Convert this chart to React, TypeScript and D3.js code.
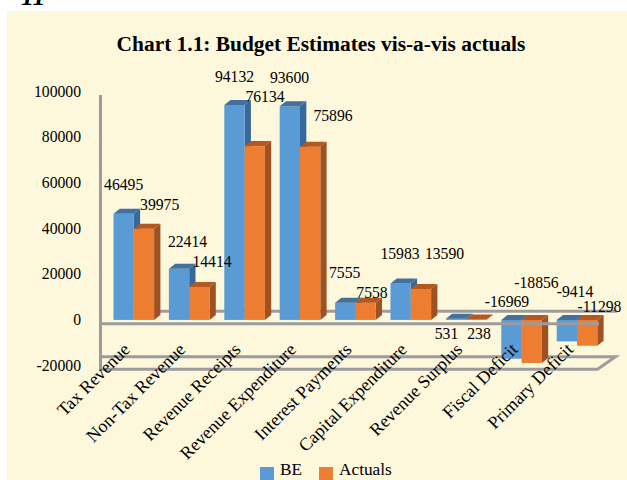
import * as d3 from "d3";
import { useEffect, useRef } from "react";

const categories = [
  "Tax Revenue",
  "Non-Tax Revenue",
  "Revenue Receipts",
  "Revenue Expenditure",
  "Interest Payments",
  "Capital Expenditure",
  "Revenue Surplus",
  "Fiscal Deficit",
  "Primary Deficit",
];
const seriesNames = ["BE", "Actuals"];
const beValues = [46495, 22414, 94132, 93600, 7555, 15983, 531, -16969, -9414];
const actualValues = [39975, 14414, 76134, 75896, 7558, 13590, 238, -18856, -11298];
const yTicks = [-20000, 0, 20000, 40000, 60000, 80000, 100000];

// hand placed data labels in the original: label centre x, baseline y
const beLabelPos = [[123.7, 190], [187.5, 247], [234.5, 82], [289.5, 82.5], [344.7, 278], [400, 259], [446.5, 339], [507, 306.7], [575, 297]];
const actualLabelPos = [[159.7, 210], [212, 267], [265, 102], [333, 121], [372, 298], [444.5, 259], [479, 339], [536.5, 288], [599.5, 312]];

const colors = {
  BE: { front: "#5B9BD5", top: "#41719C", side: "#37689A" },
  Actuals: { front: "#ED7D31", top: "#B4581F", side: "#9E5221" },
};
const serif = "'Liberation Serif', 'Times New Roman', serif";

export default function App() {
  const ref = useRef<SVGSVGElement>(null);

  useEffect(() => {
    const svg = d3.select(ref.current);
    svg.selectAll("*").remove();

    const width = 627;
    const height = 480;
    svg.attr("width", width).attr("height", height).style("font-family", serif);

    svg.append("rect").attr("width", width).attr("height", height).attr("fill", "#fff");
    svg.append("rect").attr("x", 7).attr("y", 11).attr("width", 620).attr("height", 469).attr("fill", "#FDF7DC");

    // page number cut off by the crop
    svg.append("text")
      .attr("x", 21).attr("y", 5)
      .style("font-size", "26px").style("font-weight", "bold").style("font-style", "italic")
      .text("11");

    svg.append("text")
      .attr("x", 321).attr("y", 50.5)
      .attr("text-anchor", "middle")
      .style("font-size", "21.4px").style("font-weight", "bold")
      .text("Chart 1.1: Budget Estimates vis-a-vis actuals");

    // scales
    const y = d3.scaleLinear().domain([-20000, 100000]).range([365.6, 91.6]);
    const x0 = d3.scaleBand().domain(categories).range([106.1, 604.7]).paddingInner(0.267).paddingOuter(0.1335);
    const x1 = d3.scaleBand().domain(seriesNames).range([0, x0.bandwidth()]);

    const wallX = 100.5;
    const lineColor = "#9C9C9C";
    const plane = (yy: number) => ({ front: yy + 3.7, back: yy - 8.8 });
    const zeroPlane = plane(y(0));
    const floor = plane(y(-20000));
    const gray = (sel: any) => sel.attr("fill", "none").attr("stroke", lineColor).attr("stroke-width", 3);

    // floor + back zero line sit behind the bars
    gray(svg.append("path")).attr(
      "d",
      `M${wallX},${floor.back}H615.5L597.5,${floor.front}H${wallX}`
    );
    gray(svg.append("path")).attr("d", `M116,${zeroPlane.back}H617`);
    gray(svg.append("path")).attr("d", `M${wallX},95V${floor.front + 1.5}`);

    // y axis labels
    svg.append("g")
      .selectAll("text")
      .data(yTicks)
      .enter()
      .append("text")
      .attr("x", 81)
      .attr("y", d => y(d) + 5)
      .attr("text-anchor", "end")
      .style("font-size", "15.7px")
      .text(d => d);

    // bars
    const dx = 6.3;
    const dy = -5;
    const rows = categories.flatMap((c, i) => [
      { c, s: "BE", v: beValues[i] },
      { c, s: "Actuals", v: actualValues[i] },
    ]);
    const bars = svg.append("g")
      .selectAll("g")
      .data(rows)
      .enter()
      .append("g");

    bars.each(function (d: any) {
      const g = d3.select(this);
      const col = colors[d.s as "BE" | "Actuals"];
      const bx = x0(d.c)! + x1(d.s)!;
      const bw = x1.bandwidth();
      const yTop = Math.min(y(d.v), y(0));
      const yBot = Math.max(y(d.v), y(0));
      g.append("path")
        .attr("d", `M${bx + bw},${yTop}l${dx},${dy}V${yBot + dy}l${-dx},${-dy}Z`)
        .attr("fill", col.side);
      g.append("rect")
        .attr("x", bx).attr("y", yTop)
        .attr("width", bw).attr("height", yBot - yTop)
        .attr("fill", col.front);
      g.append("path")
        .attr("d", `M${bx},${yTop}l${dx},${dy}h${bw}l${-dx},${-dy}Z`)
        .attr("fill", col.top);
    });

    // front zero line runs over the bars
    gray(svg.append("path")).attr("d", `M${wallX},${zeroPlane.front}H599`);

    // category labels
    svg.append("g")
      .selectAll("text")
      .data(categories)
      .enter()
      .append("text")
      .attr("transform", d => `translate(${x0(d)! + 17.5},350.5) rotate(-45)`)
      .attr("text-anchor", "end")
      .style("font-size", "18px")
      .text(d => d);

    // value labels
    const labels = [
      ...beValues.map((v, i) => ({ v, p: beLabelPos[i] })),
      ...actualValues.map((v, i) => ({ v, p: actualLabelPos[i] })),
    ];
    svg.append("g")
      .selectAll("text")
      .data(labels)
      .enter()
      .append("text")
      .attr("x", d => d.p[0])
      .attr("y", d => d.p[1])
      .attr("text-anchor", "middle")
      .style("font-size", "15.7px")
      .text(d => d.v);

    // legend
    const legendX = [260, 319];
    seriesNames.forEach((s, i) => {
      svg.append("rect")
        .attr("x", legendX[i]).attr("y", 467)
        .attr("width", 14).attr("height", 13)
        .attr("fill", colors[s as "BE" | "Actuals"].front);
      svg.append("text")
        .attr("x", legendX[i] + 20).attr("y", 474.5)
        .style("font-size", "17.3px")
        .text(s);
    });
  }, []);

  return <svg ref={ref} style={{ position: "absolute", left: 0, top: 0 }} />;
}
